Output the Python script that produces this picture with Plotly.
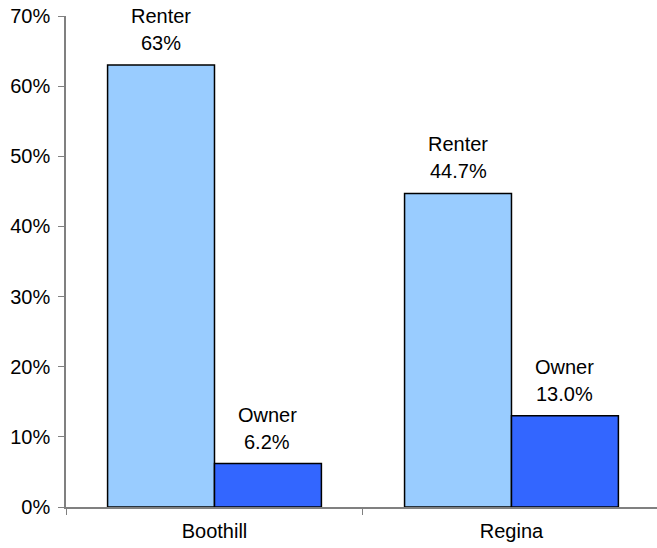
import plotly.graph_objects as go

areas = ["Boothill", "Regina"]
renter = [63.0, 44.7]
owner = [6.2, 13.0]
renter_text = ["63%", "44.7%"]
owner_text = ["6.2%", "13.0%"]

font = dict(family="Liberation Sans, Arial, sans-serif", size=20, color="black")

fig = go.Figure()
fig.add_trace(go.Bar(x=areas, y=renter, name="Renter", marker=dict(color="#99CCFF", line=dict(color="black", width=1.5))))
fig.add_trace(go.Bar(x=areas, y=owner, name="Owner", marker=dict(color="#3366FF", line=dict(color="black", width=1.5))))

# labels above each bar: name line and value line
for name, vals, txts, shift in [("Renter", renter, renter_text, -53), ("Owner", owner, owner_text, 53)]:
    for a, v, t in zip(areas, vals, txts):
        fig.add_annotation(x=a, y=v, text=t, showarrow=False, xshift=shift, yshift=22, yanchor="middle", font=font)
        fig.add_annotation(x=a, y=v, text=name, showarrow=False, xshift=shift, yshift=49, yanchor="middle", font=font)

fig.update_layout(
    width=657, height=548,
    margin=dict(l=66, r=0, t=16, b=41),
    barmode="group", bargap=0.28, bargroupgap=0,
    showlegend=False,
    plot_bgcolor="white", paper_bgcolor="white",
    font=font,
)
# right end of the original plot sits just past the window edge
fig.update_xaxes(range=[-0.5, 1.49], showline=True, linecolor="#808080", linewidth=1.5, ticks="outside",
                 tickson="boundaries", ticklen=6, tickcolor="#808080", showgrid=False, automargin=False,
                 ticklabelstandoff=5)
fig.update_yaxes(range=[0, 70], dtick=10, ticksuffix="%", showline=True, linecolor="#808080", linewidth=1.5,
                 ticks="outside", ticklen=6, tickcolor="#808080", showgrid=False, zeroline=False,
                 automargin=False, ticklabelstandoff=4)

# drop the default 8px page margin so the figure fills the window
fig.write_html("out.html", config={"displayModeBar": False},
               post_script="document.body.style.margin='0px';")
